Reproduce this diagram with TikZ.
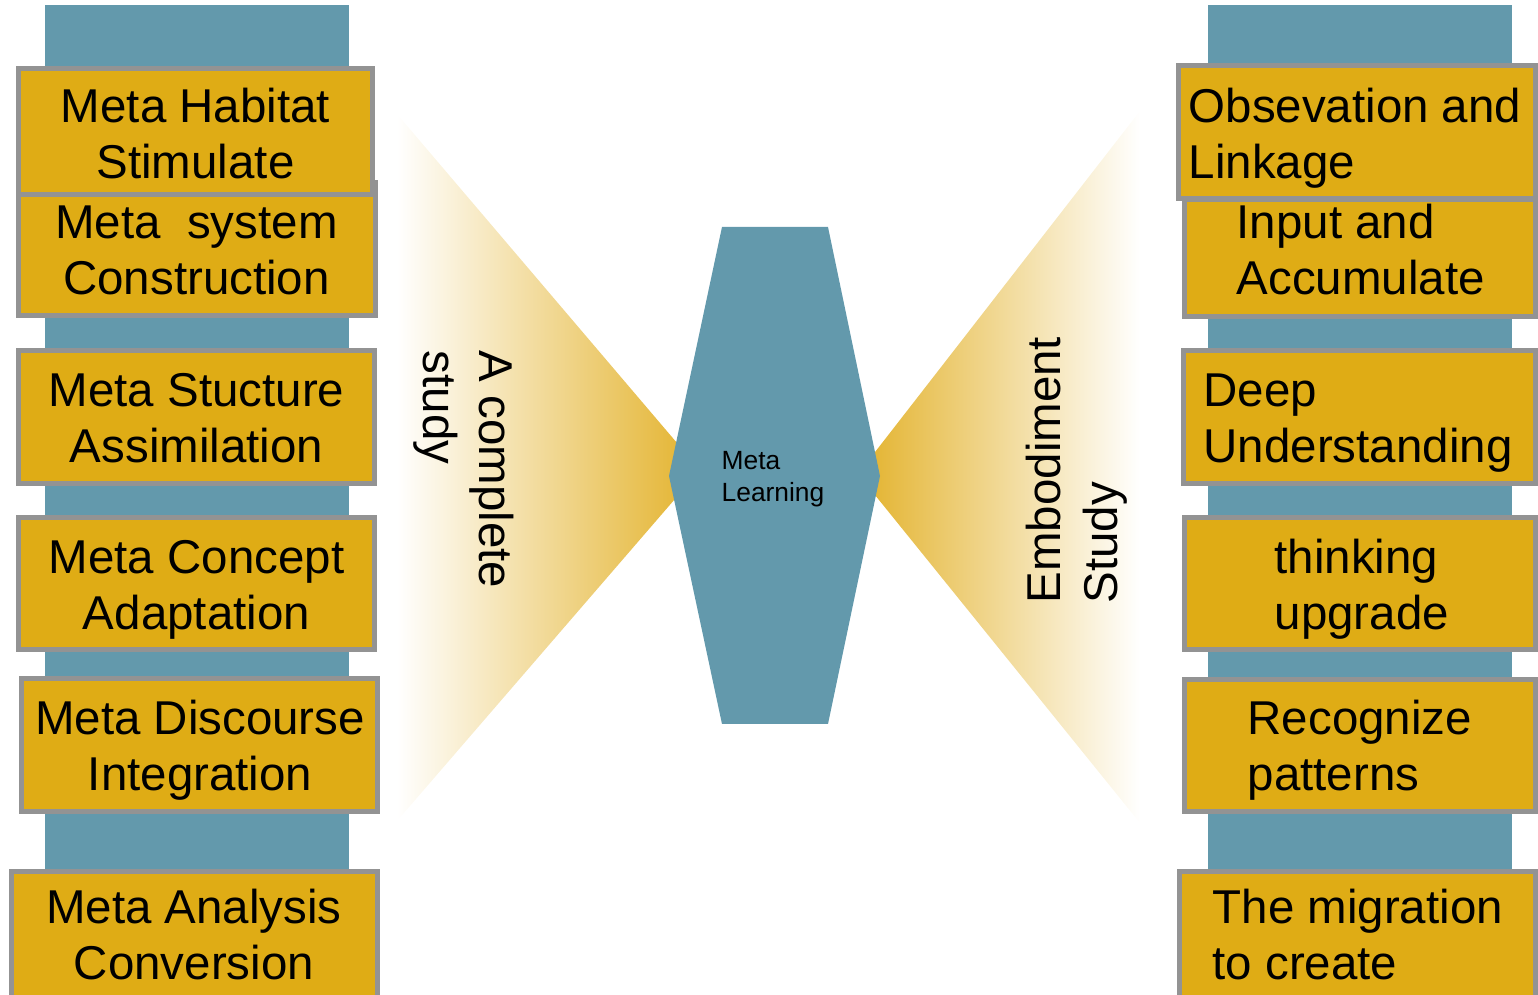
\documentclass[tikz,border=0pt]{standalone}
\usepackage{fontspec}
\setmainfont{Liberation Sans}
\begin{document}
\begin{tikzpicture}[x=0.01cm,y=-0.01cm]
\definecolor{barblue}{HTML}{6399AC}
\definecolor{boxgold}{HTML}{DFAC15}
\definecolor{edgegray}{HTML}{939393}
\definecolor{fangold}{HTML}{E3B22B}
\tikzset{
  boxcell/.style={draw=edgegray, line width=1.42pt, fill=boxgold, inner sep=0pt},
  lbltext/.style={font=\fontsize{13.5}{16.2}\selectfont, inner sep=0pt, text=black},
  lblcenter/.style={lbltext, align=center, anchor=base},
  lblleft/.style={lbltext, align=left, anchor=base west},
  hubtext/.style={font=\fontsize{7.5}{9.1}\selectfont, inner sep=0pt, align=left, anchor=base west},
}
\useasboundingbox (0,0) rectangle (1538,995);
\clip (0,0) rectangle (1538,995);

% background bars behind the two columns
\fill[barblue] (45,5) rectangle (349,1010);
\fill[barblue] (1208,5) rectangle (1512,1010);

% left column (second box drawn first so the first one overlaps it)
\node[boxcell, minimum width=3.57cm, minimum height=1.33cm] (lb2) at (197,249) {};
\node[boxcell, minimum width=3.54cm, minimum height=1.26cm] (lb1) at (195.5,131.5) {};
\node[boxcell, minimum width=3.56cm, minimum height=1.33cm] (lb3) at (196.5,417) {};
\node[boxcell, minimum width=3.56cm, minimum height=1.32cm] (lb4) at (196.5,583.5) {};
\node[boxcell, minimum width=3.56cm, minimum height=1.33cm] (lb5) at (199.5,745) {};
\node[boxcell, minimum width=3.66cm, minimum height=1.30cm] (lb6) at (194.5,937) {};

% right column
\node[boxcell, minimum width=3.51cm, minimum height=1.17cm] (rb2) at (1360,258) {};
\node[boxcell, minimum width=3.57cm, minimum height=1.33cm] (rb1) at (1357,132) {};
\node[boxcell, minimum width=3.52cm, minimum height=1.33cm] (rb3) at (1359.5,417) {};
\node[boxcell, minimum width=3.51cm, minimum height=1.32cm] (rb4) at (1360,583.5) {};
\node[boxcell, minimum width=3.51cm, minimum height=1.32cm] (rb5) at (1360,745.5) {};
\node[boxcell, minimum width=3.56cm, minimum height=1.30cm] (rb6) at (1357.5,937) {};

% fading fans on both sides of the hub
\shade[left color=white, middle color=fangold!40, right color=fangold] (397,114) -- (700,470) -- (397,821) -- cycle;
\shade[left color=fangold, middle color=fangold!40, right color=white] (1140,111) -- (858,474) -- (1140,823) -- cycle;

% central hub
\fill[barblue] (722,227) -- (828,227) -- (880,476) -- (828,724) -- (722,724) -- (669,476) -- cycle;
\node[hubtext] (hub) at (721,502) {Meta\\Learning};

% left labels (anchored on the baseline of the second line)
\node[lblcenter] (lt1) at (195.5,179) {Meta Habitat\\Stimulate};
\node[lblcenter] (lt2) at (196.5,295) {Meta\ \ system\\Construction};
\node[lblcenter] (lt3) at (196.5,463) {Meta Stucture\\Assimilation};
\node[lblcenter] (lt4) at (196.5,630) {Meta Concept\\Adaptation};
\node[lblcenter] (lt5) at (200,791) {Meta Discourse\\Integration};
\node[lblcenter] (lt6) at (194,980) {Meta Analysis\\Conversion};

% right labels
\node[lblleft] (rt1) at (1188,179) {Obsevation and\\Linkage};
\node[lblleft] (rt2) at (1236,295) {Input and\\Accumulate};
\node[lblleft] (rt3) at (1203,463) {Deep\\Understanding};
\node[lblleft] (rt4) at (1274,630) {thinking\\upgrade};
\node[lblleft] (rt5) at (1247,791) {Recognize\\patterns};
\node[lblleft] (rt6) at (1212,980) {The migration\\to create};

% fan captions
\node[lblleft, rotate=-90] (fl) at (423,350) {A complete\\study};
\node[lblleft, rotate=90] (fr) at (1117,604) {Embodiment\\Study};
\end{tikzpicture}
\end{document}
